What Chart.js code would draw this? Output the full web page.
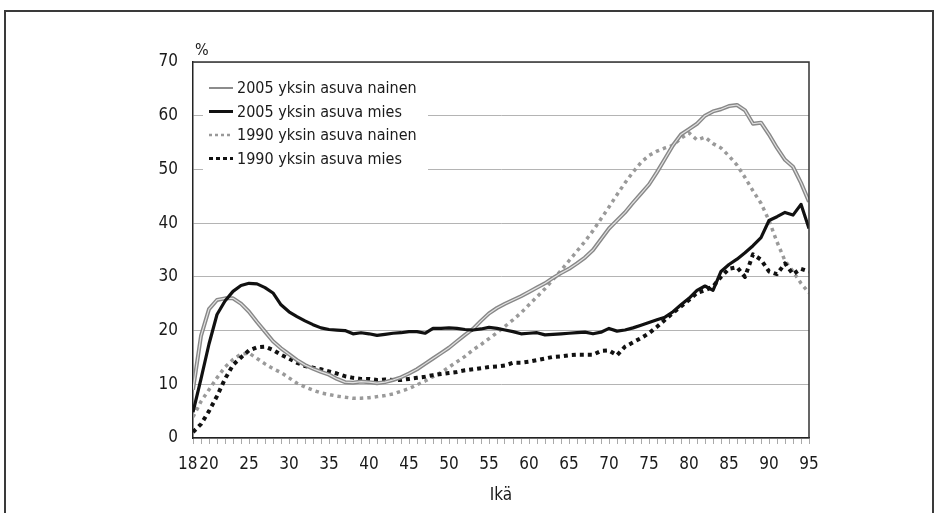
<!DOCTYPE html>
<html>
<head>
<meta charset="utf-8">
<script src="https://cdn.jsdelivr.net/npm/chart.js@4.4.1/dist/chart.umd.min.js"></script>
<style>
  body { margin: 0; background: #fff; }
  #wrap { position: relative; width: 935px; height: 513px; overflow: hidden; }
  #frame { position: absolute; left: 4px; top: 10px; width: 926px; height: 600px;
           border: 2px solid #3a3a3a; border-bottom: none; }
  #chart { position: absolute; left: 0; top: 0; }
</style>
</head>
<body>
<div id="wrap">
  <div id="frame"></div>
  <canvas id="chart" width="935" height="513"></canvas>
</div>
<script>
/* ================= DATA ================= */

const ages = [
  18, 19, 20, 21, 22, 23, 24, 25, 26, 27,
  28, 29, 30, 31, 32, 33, 34, 35, 36, 37,
  38, 39, 40, 41, 42, 43, 44, 45, 46, 47,
  48, 49, 50, 51, 52, 53, 54, 55, 56, 57,
  58, 59, 60, 61, 62, 63, 64, 65, 66, 67,
  68, 69, 70, 71, 72, 73, 74, 75, 76, 77,
  78, 79, 80, 81, 82, 83, 84, 85, 86, 87,
  88, 89, 90, 91, 92, 93, 94, 95
];

const women2005 = [
  9, 19, 24, 25.7, 26, 26, 25, 23.5, 21.6, 19.8,
  18, 16.7, 15.6, 14.5, 13.6, 12.9, 12.3, 11.8, 11.0, 10.4,
  10.3, 10.5, 10.4, 10.2, 10.4, 10.8, 11.3, 12, 12.8, 13.8,
  14.8, 15.8, 16.8, 18, 19.2, 20.3, 21.8, 23.2, 24.2, 25,
  25.7, 26.4, 27.2, 28, 28.8, 29.8, 30.7, 31.5, 32.5, 33.6,
  35, 37, 39, 40.5, 42, 43.8, 45.5, 47.2, 49.5, 52,
  54.5, 56.5, 57.5, 58.5, 60, 60.8, 61.2, 61.8, 62, 61,
  58.5, 58.7, 56.5, 54, 51.8, 50.5, 47.5, 44
];

const men2005 = [
  4.8, 11, 17.5, 23, 25.5, 27.3, 28.4, 28.8, 28.7, 28,
  27, 24.8, 23.5, 22.6, 21.8, 21.1, 20.5, 20.2, 20.1, 20,
  19.4, 19.6, 19.4, 19.1, 19.3, 19.5, 19.6, 19.8, 19.8, 19.5,
  20.4, 20.4, 20.5, 20.4, 20.2, 20.1, 20.3, 20.6, 20.4, 20.1,
  19.8, 19.4, 19.5, 19.6, 19.2, 19.3, 19.4, 19.5, 19.6, 19.7,
  19.4, 19.7, 20.4, 19.9, 20.1, 20.5, 21, 21.5, 22, 22.5,
  23.5, 24.8, 26, 27.5, 28.3, 27.5, 31, 32.3, 33.3, 34.5,
  35.8, 37.3, 40.5, 41.2, 42, 41.5, 43.5, 39
];

const women1990 = [
  3.9, 6.8, 9, 11.2, 13.2, 14.6, 15.6, 15.8, 14.8, 13.8,
  12.9, 12.2, 11.2, 10.2, 9.5, 8.9, 8.4, 8.1, 7.8, 7.6,
  7.4, 7.4, 7.5, 7.7, 7.9, 8.2, 8.7, 9.2, 9.9, 10.6,
  11.4, 12.2, 13.2, 14.2, 15.2, 16.4, 17.4, 18.5, 19.6, 20.8,
  22, 23.3, 24.8, 26.3, 27.8, 29.5, 31.2, 33, 34.8, 36.6,
  38.6, 40.8, 43, 45.3, 47.5, 49.5, 51.3, 52.6, 53.4, 54,
  54.5, 55.8, 56.8, 55.5, 56, 54.8, 54, 52.5, 50.8, 48.5,
  46, 43.7, 40.5, 36.5, 33, 31, 28.8, 27
];

const men1990 = [
  1.1, 2.6, 5, 7.8, 11, 13.6, 15, 16.3, 16.9, 17,
  16.4, 15.5, 14.8, 14, 13.4, 13.1, 12.8, 12.4, 12, 11.5,
  11.2, 11, 11, 10.8, 10.9, 10.8, 10.8, 11, 11.2, 11.4,
  11.7, 11.9, 12.1, 12.3, 12.6, 12.8, 13, 13.2, 13.3, 13.5,
  14, 14, 14.2, 14.5, 14.8, 15.1, 15.2, 15.4, 15.5, 15.5,
  15.5, 16.2, 16.3, 15.4, 17, 17.8, 18.6, 19.5, 20.7, 22,
  23.3, 24.5, 25.7, 27, 27.5, 28.2, 30, 31.5, 31.8, 30,
  34.2, 33.2, 31, 30.5, 32.5, 30.5, 31.5, 31
];

const seriesNames = [
  "2005 yksin asuva nainen",
  "2005 yksin asuva mies",
  "1990 yksin asuva nainen",
  "1990 yksin asuva mies"
];

const xLabels = [18, 20, 25, 30, 35, 40, 45, 50, 55, 60, 65, 70, 75, 80, 85, 90, 95];

/* ================= STYLE ================= */

const FONT_FAMILY = "'Liberation Sans Narrow', 'DejaVu Sans Condensed', Lato, sans-serif";
const TEXT = "#1a1a1a";

function pts(values) {
  return ages.map((a, i) => ({ x: a, y: values[i] }));
}

/* ================= PLUGINS ================= */

// top and right border of the plot, plus the "%" unit label
const framePlugin = {
  id: "frame",
  afterDraw(chart) {
    const { ctx, chartArea: a } = chart;
    ctx.save();
    ctx.strokeStyle = "#333";
    ctx.lineWidth = 1.5;
    ctx.beginPath();
    ctx.moveTo(a.left, a.top);
    ctx.lineTo(a.right, a.top);
    ctx.lineTo(a.right, a.bottom);
    ctx.stroke();

    ctx.fillStyle = TEXT;
    ctx.font = "16px " + FONT_FAMILY;
    ctx.textAlign = "left";
    ctx.textBaseline = "middle";
    ctx.fillText("%", a.left + 2, a.top - 11);
    ctx.restore();
  }
};

// legend box inside the plot (white background hides the grid lines)
const legendPlugin = {
  id: "insideLegend",
  afterDatasetsDraw(chart) {
    const { ctx, chartArea: a } = chart;
    const x0 = a.left + 10;
    const y0 = a.top + 10;

    ctx.save();
    ctx.fillStyle = "#fff";
    ctx.fillRect(x0, y0, 225, 100);

    const samples = [
      { color: "#8c8c8c", width: 2, dash: [] },
      { color: "#111", width: 3, dash: [] },
      { color: "#999", width: 2.5, dash: [3, 3] },
      { color: "#111", width: 3, dash: [4, 3] }
    ];

    ctx.font = "16px " + FONT_FAMILY;
    ctx.textBaseline = "middle";
    ctx.textAlign = "left";

    seriesNames.forEach((name, i) => {
      const y = a.top + 26 + i * 23.5;
      const s = samples[i];
      ctx.strokeStyle = s.color;
      ctx.lineWidth = s.width;
      ctx.setLineDash(s.dash);
      ctx.beginPath();
      ctx.moveTo(a.left + 16, y);
      ctx.lineTo(a.left + 40, y);
      ctx.stroke();
      ctx.setLineDash([]);
      ctx.fillStyle = TEXT;
      ctx.fillText(name, a.left + 44, y + 1);
    });
    ctx.restore();
  }
};

/* ================= CHART ================= */

const tickFont = { family: FONT_FAMILY, size: 17 };

new Chart(document.getElementById("chart"), {
  type: "line",
  data: {
    datasets: [
      {
        label: seriesNames[1],
        data: pts(men2005),
        borderColor: "#111",
        borderWidth: 3.2,
        order: 0
      },
      {
        label: "inner",
        data: pts(women2005),
        borderColor: "#e2e2e2",
        borderWidth: 1.2,
        order: 1
      },
      {
        label: seriesNames[0],
        data: pts(women2005),
        borderColor: "#888",
        borderWidth: 4,
        order: 2
      },
      {
        label: seriesNames[3],
        data: pts(men1990),
        borderColor: "#111",
        borderWidth: 4,
        borderDash: [4, 4],
        order: 3
      },
      {
        label: seriesNames[2],
        data: pts(women1990),
        borderColor: "#9a9a9a",
        borderWidth: 3.5,
        borderDash: [3.5, 4],
        order: 4
      }
    ]
  },
  options: {
    responsive: false,
    animation: false,
    devicePixelRatio: 1,
    layout: { padding: { top: 62, right: 126, left: 0, bottom: 0 } },
    elements: {
      point: { radius: 0 },
      line: { tension: 0, borderCapStyle: "butt", borderJoinStyle: "round" }
    },
    plugins: {
      legend: { display: false },
      tooltip: { enabled: false }
    },
    scales: {
      x: {
        type: "linear",
        min: 18,
        max: 95,
        afterFit(scale) { scale.height = 75; },
        ticks: {
          stepSize: 1,
          autoSkip: false,
          maxRotation: 0,
          padding: 10,
          color: TEXT,
          font: tickFont,
          // "18" sits a little left of its tick in the original
          callback: v => (v === 18 ? "18\u2002\u2009" : xLabels.includes(v) ? String(v) : "")
        },
        grid: {
          drawOnChartArea: false,
          tickLength: 6,
          color: "#aaa"
        },
        border: { color: "#222", width: 1.5 },
        title: {
          display: true,
          text: "Ikä",
          color: TEXT,
          font: tickFont,
          padding: { top: 4, bottom: 7 }
        }
      },
      y: {
        min: 0,
        max: 70,
        afterFit(scale) { scale.width = 193; },
        ticks: {
          stepSize: 10,
          padding: 15,
          color: TEXT,
          font: tickFont
        },
        grid: {
          drawTicks: false,
          color: "#b4b4b4",
          lineWidth: 1
        },
        border: { color: "#222", width: 1.5 }
      }
    }
  },
  plugins: [framePlugin, legendPlugin]
});
</script>
</body>
</html>
